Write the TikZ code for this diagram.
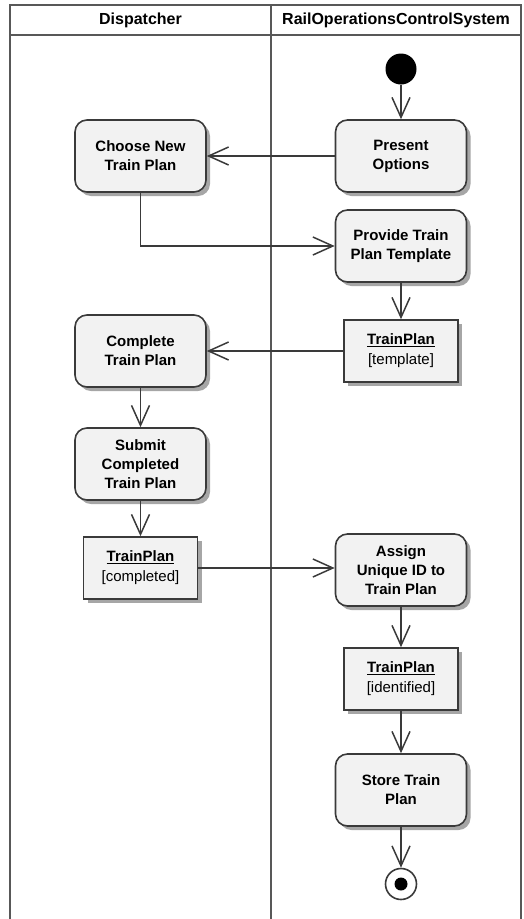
\documentclass[tikz,border=0pt]{standalone}
\usepackage{fontspec}
\setmainfont{Liberation Sans}
\usetikzlibrary{arrows.meta, positioning, shadows}
\usepackage{xcolor}
\definecolor{linegray}{HTML}{3A3A3A}
\definecolor{nodefill}{HTML}{F2F2F2}

\begin{document}
\begin{tikzpicture}[x=1pt, y=-1pt,
  lane/.style={draw=linegray!85, line width=2.2pt},
  lanehead/.style={font=\fontsize{16}{19}\selectfont\bfseries},
  action/.style={rectangle, draw=linegray, line width=1.6pt, rounded corners=12pt,
    minimum width=131pt, minimum height=72pt, align=center, fill=nodefill,
    font=\fontsize{15}{19}\selectfont\bfseries,
    drop shadow={shadow xshift=4pt, shadow yshift=-4pt, fill=black, opacity=0.35}},
  object/.style={rectangle, draw=linegray, line width=1.6pt,
    minimum width=114pt, minimum height=62pt, align=center, fill=nodefill,
    font=\fontsize{15}{20}\selectfont,
    drop shadow={shadow xshift=4pt, shadow yshift=-4pt, fill=black, opacity=0.35}},
  initial/.style={circle, fill=black, minimum size=31pt, inner sep=0pt},
  final/.style={circle, draw=linegray, line width=1.6pt, fill=white, minimum size=31pt, inner sep=0pt},
  arrow/.style={-{Straight Barb[length=20pt, width=18pt, line width=1.5pt]}, draw=linegray, line width=1.5pt}
]
\useasboundingbox (0,0) rectangle (523,919);

% swimlanes
\draw [lane] (10,919) -- (10,5) -- (521,5) -- (521,919);
\draw [lane] (10,35) -- (521,35);
\draw [lane] (271,5) -- (271,919);
\node (dispatcher) [lanehead] at (140.5,20) {Dispatcher};
\node (system) [lanehead] at (396,20) {RailOperationsControlSystem};

% RailOperationsControlSystem
\node (start) [initial] at (401,69) {};
\node (present) [action] at (401,156) {Present\\Options};
\node (provide) [action] at (401,246) {Provide Train\\Plan Template};
\node (tmpl) [object] at (401,351) {\textbf{\underline{TrainPlan}}\\{[template]}};
\node (assign) [action] at (401,570) {Assign\\Unique ID to\\Train Plan};
\node (ident) [object] at (401,679) {\textbf{\underline{TrainPlan}}\\{[identified]}};
\node (store) [action] at (401,790) {Store Train\\Plan};
\node (final) [final] at (401,884) {};
\node (finaldot) [circle, fill=black, minimum size=13pt, inner sep=0pt] at (final) {};

% Dispatcher
\node (choose) [action] at (140.5,156) {Choose New\\Train Plan};
\node (complete) [action] at (140.5,351) {Complete\\Train Plan};
\node (submit) [action] at (140.5,464) {Submit\\Completed\\Train Plan};
\node (completed) [object] at (140.5,568) {\textbf{\underline{TrainPlan}}\\{[completed]}};

% flows
\draw [arrow] (start) -- (present);
\draw [arrow] (present) -- (choose);
\draw [arrow] (choose) |- (provide);
\draw [arrow] (provide) -- (tmpl);
\draw [arrow] (tmpl) -- (complete);
\draw [arrow] (complete) -- (submit);
\draw [arrow] (submit) -- (completed);
\draw [arrow] (completed.east) -- (assign.west |- completed.east);
\draw [arrow] (assign) -- (ident);
\draw [arrow] (ident) -- (store);
\draw [arrow] (store) -- (final);

\end{tikzpicture}
\end{document}
